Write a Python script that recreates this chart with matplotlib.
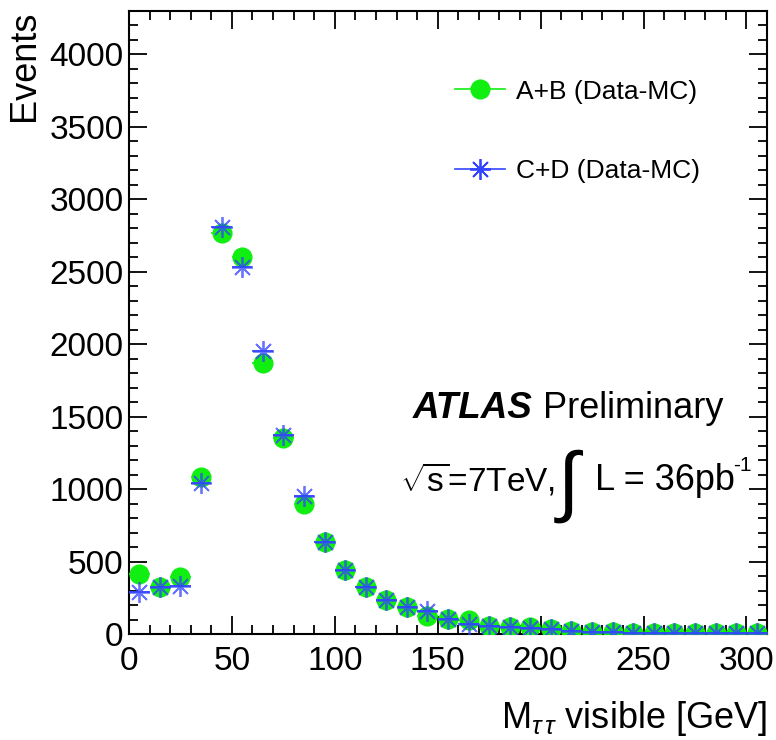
import numpy as np
import matplotlib
matplotlib.use("Agg")
import matplotlib.pyplot as plt
from matplotlib.lines import Line2D
from matplotlib.ticker import MultipleLocator

plt.rcParams['font.family'] = ['Liberation Sans', 'DejaVu Sans']
plt.rcParams['mathtext.fontset'] = 'custom'
plt.rcParams['mathtext.rm'] = 'Liberation Sans'
plt.rcParams['mathtext.it'] = 'Liberation Sans:italic'
plt.rcParams['mathtext.bf'] = 'Liberation Sans:bold'

# bin centres (10 GeV bins)
mass = [5, 15, 25, 35, 45, 55, 65, 75, 85, 95, 105, 115, 125, 135, 145, 155,
        165, 175, 185, 195, 205, 215, 225, 235, 245, 255, 265, 275, 285, 295, 305]
ab_events = [414, 325, 394, 1085, 2770, 2605, 1871, 1354, 898, 636, 442, 325, 235,
             187, 124, 104, 97, 55, 48, 45, 35, 21, 14, 12, 10, 10, 8, 7, 6, 6, 6]
cd_events = [290, 325, 332, 1043, 2812, 2536, 1950, 1375, 953, 636, 442, 325, 235,
             187, 159, 104, 72, 55, 48, 42, 33, 20, 14, 12, 10, 10, 8, 7, 6, 6, 6]
half_bin = 5

fig = plt.figure(figsize=(7.76, 7.40), dpi=100)
ax = fig.add_axes([129 / 776, 1 - 634 / 740, 638 / 776, 623 / 740])

green = '#11ee11'
blue = '#3344ff'
star = (8, 2, 0)

# green points with bin-width bars
ax.errorbar(mass, ab_events, xerr=half_bin, fmt='o', color=green, ms=13.5,
            mec=green, elinewidth=1.2, capsize=0, zorder=3)
# blue points
ax.errorbar(mass, cd_events, xerr=half_bin, fmt='none', ecolor=blue,
            elinewidth=1.2, capsize=0, zorder=4)
ax.plot(mass, cd_events, ls='none', marker=star, ms=15, mew=1.3,
        color=blue, alpha=0.75, zorder=5)

ax.set_xlim(0, 310)
ax.set_ylim(0, 4300)
ax.xaxis.set_major_locator(MultipleLocator(50))
ax.xaxis.set_minor_locator(MultipleLocator(10))
ax.yaxis.set_major_locator(MultipleLocator(500))
ax.yaxis.set_minor_locator(MultipleLocator(100))
ax.tick_params(which='both', direction='in', top=True, right=True, width=1.3)
ax.tick_params(which='major', length=13, labelsize=24)
ax.tick_params(which='minor', length=6.5)
ax.tick_params(axis='x', which='major', pad=9)
ax.tick_params(axis='y', which='major', pad=4)
for sp in ax.spines.values():
    sp.set_linewidth(1.5)

ax.set_ylabel('Events', loc='top', fontsize=26)
ax.yaxis.set_label_coords(-0.136, 1.0)
ax.set_xlabel(r'M$_{\tau\,\tau}$ visible [GeV]', loc='right', fontsize=26)
ax.xaxis.set_label_coords(1.0, -0.104)

handles = [Line2D([], [], color=green, lw=1.2, marker='o', ms=13.5, mec=green),
           Line2D([], [], color=blue, lw=1.2, marker=star, ms=15, mew=1.3)]
ax.legend(handles, ['A+B (Data-MC)', 'C+D (Data-MC)'],
          loc='upper left', bbox_to_anchor=(0.511, 0.890), frameon=False,
          fontsize=19, labelspacing=2.1, handlelength=1.9, handletextpad=0.4,
          borderpad=0, borderaxespad=0)

ax.text(0.445, 0.347, 'ATLAS', transform=ax.transAxes, fontsize=26.5,
        fontweight='bold', fontstyle='italic')
ax.text(0.649, 0.347, 'Preliminary', transform=ax.transAxes, fontsize=26)
ax.text(0.425, 0.231, r'$\sqrt{\mathrm{s}}$=7TeV,', transform=ax.transAxes, fontsize=24)
ax.text(0.672, 0.205, '\u222b', transform=ax.transAxes, fontsize=56)
ax.text(0.730, 0.231, 'L = 36pb', transform=ax.transAxes, fontsize=26)
ax.text(0.947, 0.262, '-1', transform=ax.transAxes, fontsize=15)

fig.savefig('out.png', dpi=100)
